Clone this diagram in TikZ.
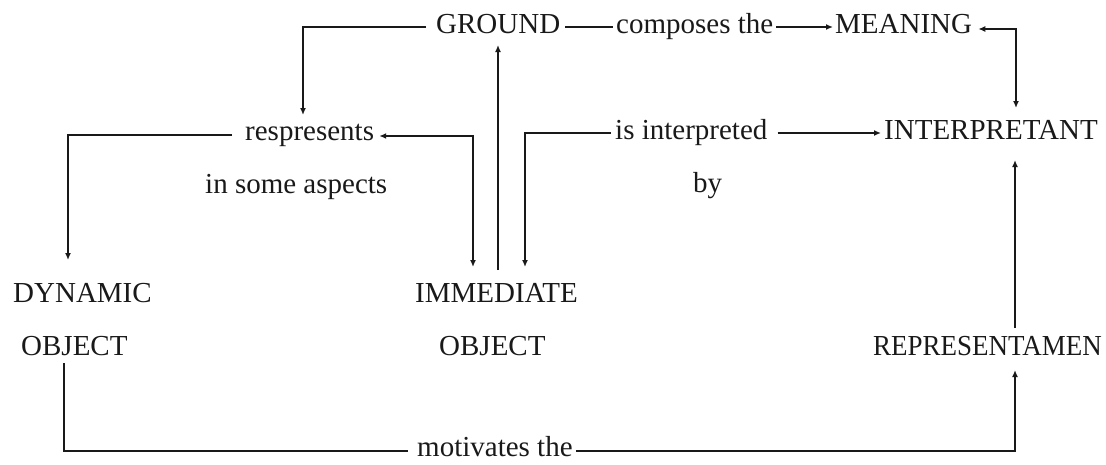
\documentclass[tikz,border=0pt]{standalone}
\usepackage{fontspec}
\usepackage{graphicx}
\setmainfont{Liberation Serif}
\usetikzlibrary{calc,arrows.meta}
\begin{document}
\begin{tikzpicture}[x=1pt,y=-1pt,
  txt/.style={inner sep=0pt,anchor=base west,font=\fontsize{29}{34}\selectfont,text=black!90},
  ln/.style={line width=1.6pt,black!90},
  arr/.style={ln,-{Latex[length=7pt,width=6pt]}},
  darr/.style={ln,{Latex[length=7pt,width=6pt]}-{Latex[length=7pt,width=6pt]}}]
\useasboundingbox (0,0) rectangle (1106,464);
% texts
\node[txt] (ground) at (436,33) {GROUND};
\node[txt] (comp) at (616,33) {composes the};
\node[txt] (meaning) at (835,33) {MEANING};
\node[txt] (resp) at (245,140) {respresents};
\node[txt] (interp) at (615,139) {is interpreted};
\node[txt] (interpretant) at (884,139) {INTERPRETANT};
\node[txt] (aspects) at (205,193) {in some aspects};
\node[txt] (by) at (693,192) {by};
\node[txt] (dynamic) at (13,302) {DYNAMIC};
\node[txt] (dynobj) at (21,355) {OBJECT};
\node[txt] (immediate) at (415,302) {IMMEDIATE};
\node[txt] (immobj) at (439,355) {OBJECT};
\node[txt] (repr) at (873,355) {\scalebox{0.93}[1]{REPRESENTAMEN}};
\node[txt] (motiv) at (417,456) {motivates the};
% connectors
\draw[arr] ($(ground.base west)+(-10,-6)$) -| ($(resp.base west)+(58,-25)$);
\draw[ln] ($(ground.base east)+(5,-6)$) -- ($(comp.base west)+(-3,-6)$);
\draw[arr] ($(comp.base east)+(3,-6)$) -- ($(meaning.base west)+(-2,-6)$);
\draw[darr] ($(meaning.base east)+(6,-4)$) -| ($(interpretant.base west)+(132,-31)$);
\draw[arr] ($(resp.base west)+(-13,-5)$) -| ($(dynamic.base west)+(55,-42)$);
\draw[darr] ($(resp.base east)+(5,-4)$) -| ($(immediate.base west)+(58,-35)$);
\draw[arr] ($(immediate.base west)+(83,-32)$) -- ($(ground.base west)+(62,12)$);
\draw[arr] ($(interp.base west)+(-4,-6)$) -| ($(immediate.base west)+(110,-35)$);
\draw[arr] ($(interp.base east)+(10,-6)$) -- ($(interpretant.base west)+(-3,-6)$);
\draw[arr] ($(repr.base west)+(142,-27)$) -- ($(interpretant.base west)+(131,21)$);
\draw[ln] ($(dynobj.base west)+(43,8)$) |- ($(motiv.base west)+(-9,-5)$);
\draw[arr] ($(motiv.base east)+(3,-5)$) -| ($(repr.base west)+(142,15)$);
\end{tikzpicture}
\end{document}
